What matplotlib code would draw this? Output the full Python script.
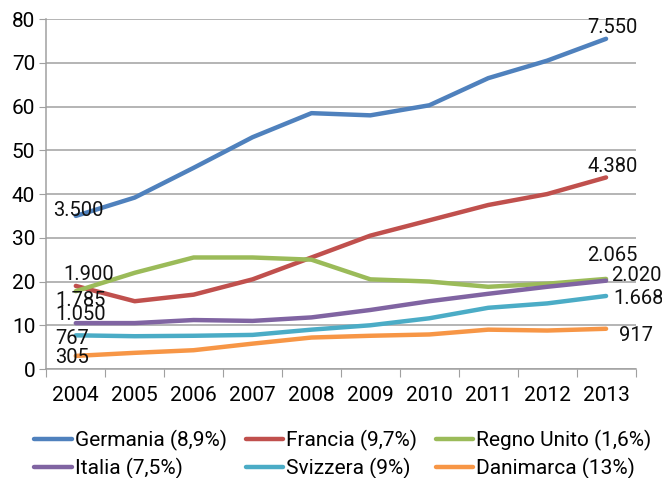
import matplotlib.pyplot as plt

plt.rcParams['font.family'] = ['Roboto', 'DejaVu Sans']

anni = ['2004', '2005', '2006', '2007', '2008', '2009', '2010', '2011', '2012', '2013']

germania = [35, 39.2, 46, 53, 58.5, 58, 60.3, 66.5, 70.5, 75.5]
francia = [19, 15.5, 17, 20.5, 25.5, 30.5, 34, 37.5, 40, 43.8]
regno_unito = [17.8, 22, 25.5, 25.5, 25, 20.5, 20, 18.8, 19.5, 20.6]
italia = [10.5, 10.5, 11.2, 11, 11.8, 13.5, 15.5, 17.2, 18.8, 20.2]
svizzera = [7.7, 7.5, 7.6, 7.8, 9, 10, 11.6, 14, 15, 16.7]
danimarca = [3, 3.7, 4.3, 5.8, 7.2, 7.6, 7.9, 9, 8.8, 9.2]

nomi = ['Germania (8,9%)', 'Francia (9,7%)', 'Regno Unito (1,6%)',
        'Italia (7,5%)', 'Svizzera (9%)', 'Danimarca (13%)']
serie = [germania, francia, regno_unito, italia, svizzera, danimarca]
colori = ['#4F81BD', '#C0504D', '#9BBB59', '#8064A2', '#4BACC6', '#F79646']

# etichette iniziali e finali (testo, offset in punti)
etichette_inizio = [('3.500', (-16, 4)), ('1.900', (-9, 8.5)), ('1.785', (-15, -7)),
                    ('1.050', (-15, 6)), ('767', (-15, -2)), ('305', (-15, -1))]
etichette_fine = [('7.550', (-13.5, 1)), ('4.380', (-13.5, 1)), ('2.065', (-13.5, 10)),
                  ('2.020', (3.5, 3.5)), ('1.668', (5, -2)), ('917', (9, -4.5))]

fig = plt.figure(figsize=(6.62, 4.78), dpi=100)
ax = fig.add_axes([0.07, 0.228, 0.89, 0.732])

x = list(range(len(anni)))
linee = []
for i, (vals, col, nome) in enumerate(zip(serie, colori, nomi)):
    l, = ax.plot(x, vals, color=col, linewidth=3.2, solid_capstyle='round', label=nome)
    linee.append(l)
    t, off = etichette_inizio[i]
    ax.annotate(t, (x[0], vals[0]), xytext=off, textcoords='offset points',
                fontsize=14.5, ha='left', va='center', color='#111111')
    t, off = etichette_fine[i]
    ax.annotate(t, (x[-1], vals[-1]), xytext=off, textcoords='offset points',
                fontsize=14.5, ha='left', va='bottom' if i < 3 else 'center', color='#111111')

ax.set_xlim(-0.5, len(anni) - 0.5)
ax.set_ylim(0, 80)
ax.set_yticks(range(0, 81, 10))
ax.set_xticks([i + 0.5 for i in range(-1, len(anni))], minor=False)
ax.set_xticklabels([])
ax.set_xticks(x, minor=True)
ax.set_xticklabels(anni, minor=True)
ax.tick_params(axis='x', which='major', length=6, color='#A0A0A0', direction='out')
ax.tick_params(axis='x', which='minor', length=0, pad=12, labelsize=15)
ax.tick_params(axis='y', length=5, color='#A0A0A0', labelsize=15, pad=3)

ax.grid(axis='y', color='#A0A0A0', linewidth=1.1)
ax.set_axisbelow(True)
for s in ['top', 'right']:
    ax.spines[s].set_visible(False)
for s in ['left', 'bottom']:
    ax.spines[s].set_color('#A0A0A0')
    ax.spines[s].set_linewidth(1.1)

ordine = [0, 3, 1, 4, 2, 5]
fig.legend([linee[k] for k in ordine], [nomi[k] for k in ordine], ncol=3,
           loc='upper center', bbox_to_anchor=(0.518, 0.118), frameon=False,
           fontsize=15, handlelength=1.8, handletextpad=0.14, columnspacing=0.9,
           labelspacing=0.35, borderaxespad=0)

fig.savefig('out.png', dpi=100)
